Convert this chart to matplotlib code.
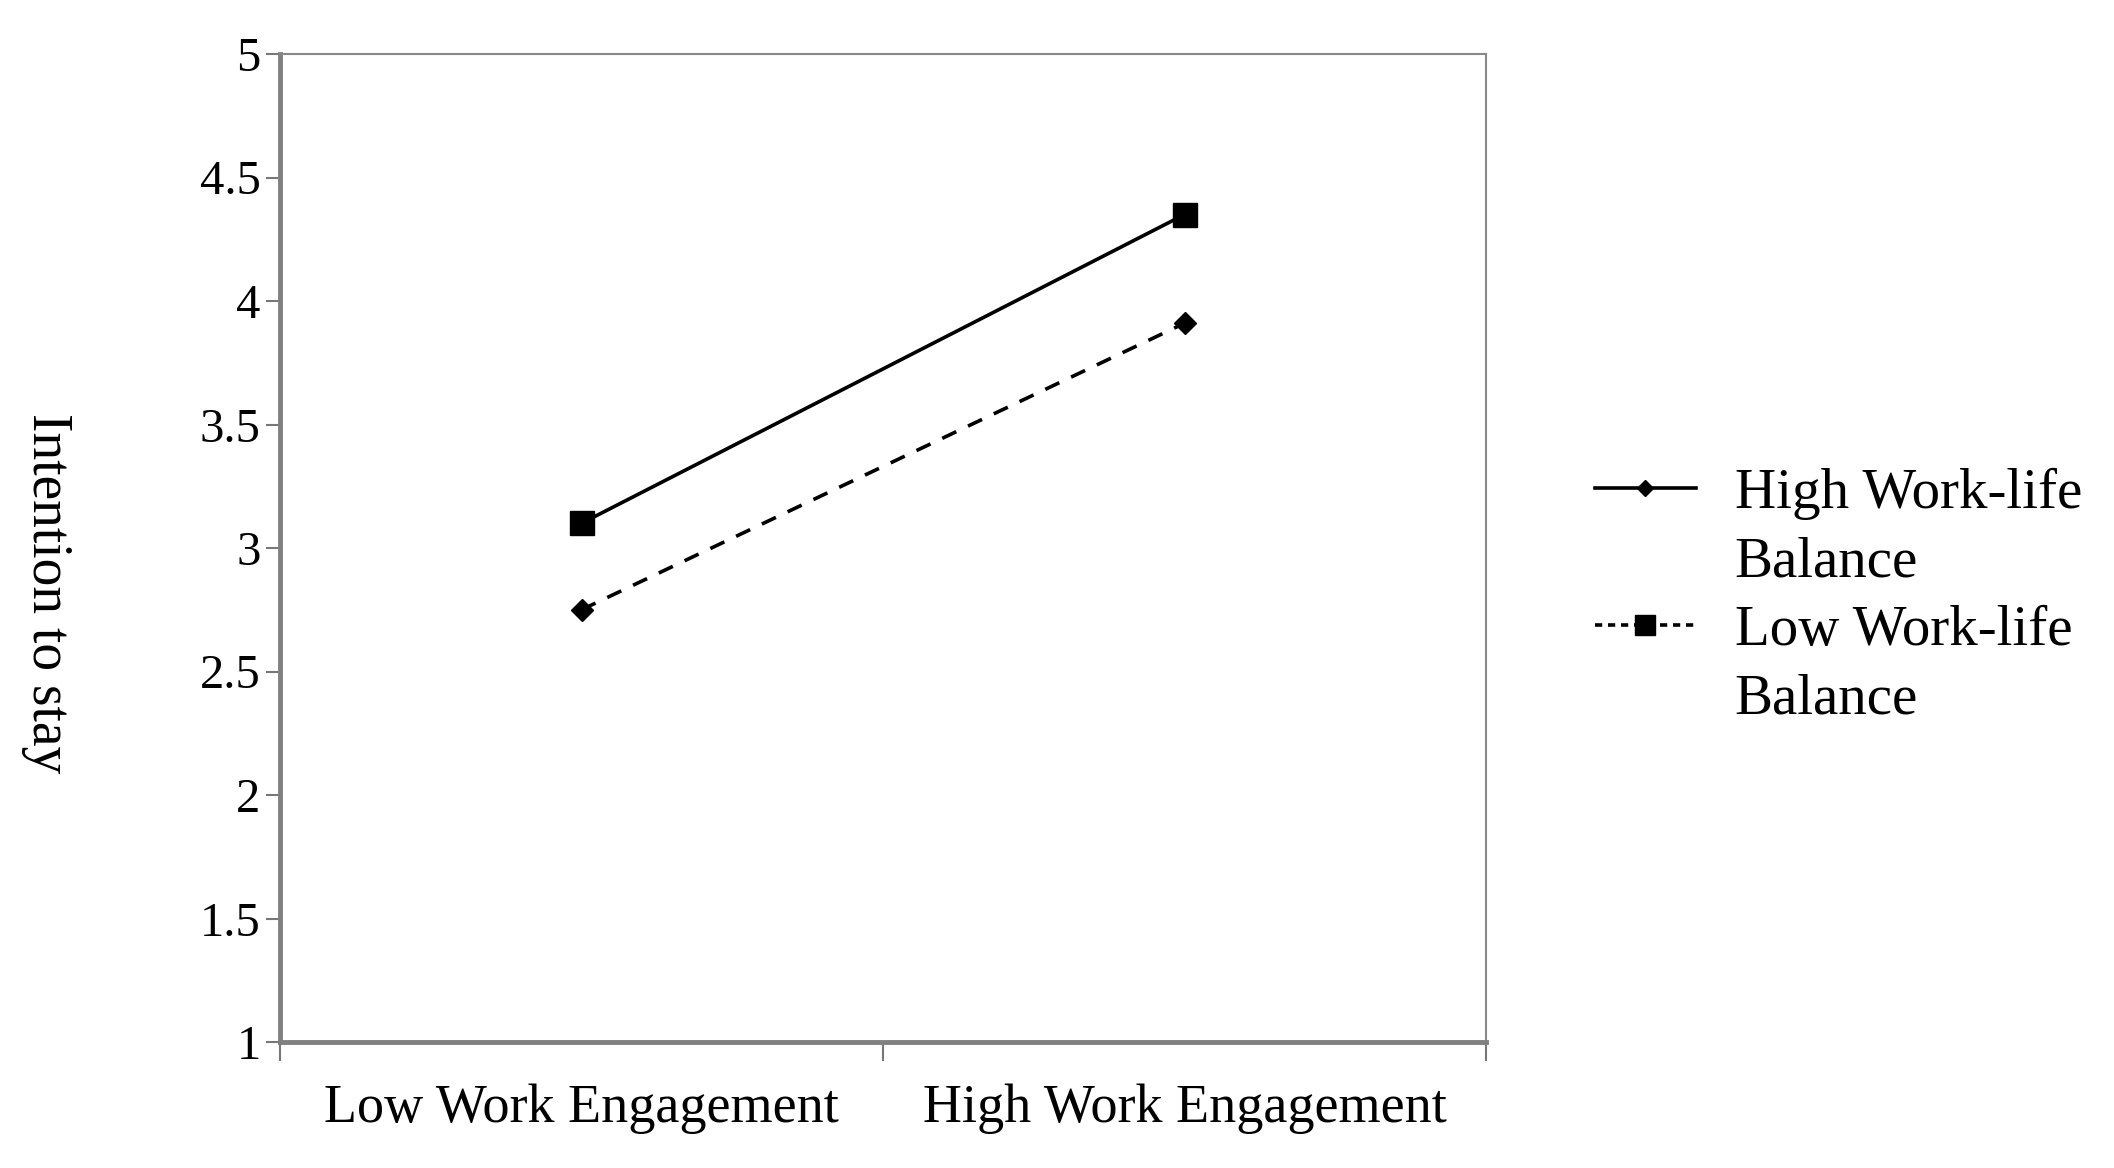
import matplotlib
matplotlib.use("Agg")
import matplotlib.pyplot as plt
from matplotlib.lines import Line2D

categories = ["Low Work Engagement", "High Work Engagement"]
high_wlb = [3.10, 4.35]   # solid line, square markers in plot
low_wlb = [2.75, 3.91]    # dashed line, diamond markers in plot
y_ticks = [1, 1.5, 2, 2.5, 3, 3.5, 4, 4.5, 5]
y_ticklabels = ["1", "1.5", "2", "2.5", "3", "3.5", "4", "4.5", "5"]
legend_labels = ["High Work-life", "Balance", "Low Work-life", "Balance"]
y_label = "Intention to stay"

plt.rcParams['font.family'] = ['Liberation Serif', 'DejaVu Serif']

fig = plt.figure(figsize=(21.14, 11.68), dpi=100)
fig.patch.set_facecolor('white')
ax = fig.add_axes([280/2114, 1 - 1042/1168, (1486-280)/2114, (1042-54)/1168])

xpos = [i + 0.5 for i in range(len(categories))]
ax.plot(xpos, high_wlb, color='black', lw=2.6, linestyle='-', marker='s', markersize=17)
ax.plot(xpos, low_wlb, color='black', lw=2.6, linestyle=(0, (4.3, 3.6)), marker='D', markersize=11)

ax.set_xlim(0, len(categories))
ax.set_ylim(1, 5)
ax.set_yticks(y_ticks)
ax.set_yticklabels(y_ticklabels)
ax.set_xticks(range(len(categories) + 1))
ax.set_xticklabels([])
ax.set_xticks(xpos, minor=True)
ax.set_xticklabels(categories, minor=True)
ax.tick_params(axis='x', which='minor', length=0, pad=30, labelsize=39)
ax.tick_params(axis='x', which='major', direction='out', length=14, width=1.5, color='#777777')
ax.tick_params(axis='y', direction='out', length=10, width=1.5, color='#777777', pad=4, labelsize=35)

for s in ['top', 'right']:
    ax.spines[s].set_color('#888888')
    ax.spines[s].set_linewidth(1.5)
for s in ['left', 'bottom']:
    ax.spines[s].set_color('#808080')
    ax.spines[s].set_linewidth(3.5)

fig.text(47/2114, 1 - 593/1168, y_label, rotation=270, ha='center', va='center', fontsize=40)

handles = [
    Line2D([], [], color='black', lw=2.6, linestyle='-', marker='D', markersize=8),
    Line2D([], [], linestyle='none'),
    Line2D([], [], color='black', lw=2.6, linestyle=(0, (2.0, 1.6)), marker='s', markersize=15),
    Line2D([], [], linestyle='none'),
]
fig.legend(handles, legend_labels, loc='upper left', bbox_to_anchor=(1595/2114, 1 - 468/1168),
           frameon=False, fontsize=41, handlelength=1.77, handletextpad=0.68, labelspacing=0.29,
           borderpad=0, borderaxespad=0)

fig.savefig("out.png", dpi=100, facecolor='white')
